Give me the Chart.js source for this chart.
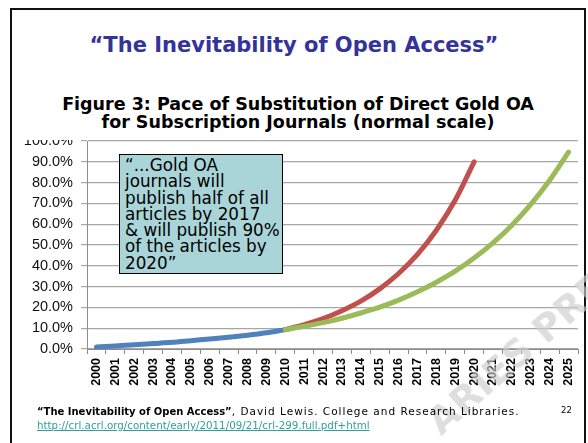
<!DOCTYPE html>
<html>
<head>
<meta charset="utf-8">
<script src="https://cdn.jsdelivr.net/npm/chart.js@4/dist/chart.umd.min.js"></script>
<style>
  html, body { margin: 0; padding: 0; background: #fff; }
  #slide {
    position: relative; width: 588px; height: 443px; overflow: hidden;
    font-family: "DejaVu Sans", Verdana, sans-serif;
  }
  #frame {
    position: absolute; left: 10px; top: 8px; width: 576px; height: 460px;
    border: 2px solid #111; box-sizing: border-box;
  }
  .title {
    position: absolute; left: 0; width: 588px; top: 33px; text-align: center;
    font-weight: bold; font-size: 21px; color: #333399;
  }
  .figtitle {
    position: absolute; left: 4px; width: 588px; top: 95px; text-align: center;
    font-weight: bold; font-size: 17.5px; line-height: 18px; color: #000;
  }
  #chartBox { position: absolute; left: 14px; top: 140px; width: 568px; height: 254px; }
  .note {
    position: absolute; left: 119px; top: 154px; width: 164px; height: 120px;
    box-sizing: border-box; background: #a9d5d9; border: 1px solid #000;
    padding: 2px 0 0 5px; font-size: 16.8px; line-height: 16.3px; color: #000;
    white-space: nowrap;
  }
  .wm {
    position: absolute; left: 418px; top: 410px; transform-origin: 0 0;
    transform: rotate(-41deg); font-weight: bold; font-size: 38px;
    color: rgba(205, 205, 205, 0.65); white-space: nowrap; pointer-events: none;
  }
  .foot { position: absolute; left: 37px; top: 405px; font-size: 10.5px; color: #000; letter-spacing: 1px; }
  .foot b { font-size: 10px; letter-spacing: 0; }
  .link { position: absolute; left: 37px; top: 419px; font-size: 10.3px; color: #30a0a0; text-decoration: underline; }
  .page { position: absolute; left: 561px; top: 405px; font-size: 8.5px; color: #000; }
</style>
</head>
<body>
<div id="slide">
  <div id="frame"></div>
  <div class="title">“The Inevitability of Open Access”</div>
  <div class="figtitle">Figure 3: Pace of Substitution of Direct Gold OA<br>for Subscription Journals (normal scale)</div>
  <div id="chartBox"><canvas id="chart"></canvas></div>
  <div class="note">“...Gold OA<br>journals will<br>publish half of all<br>articles by 2017<br>&amp; will publish 90%<br>of the articles by<br>2020”</div>
  <div class="wm">ARIES PRESS</div>
  <div class="foot"><b>“The Inevitability of Open Access”</b>, David Lewis. College and Research Libraries.</div>
  <div class="link">http://crl.acrl.org/content/early/2011/09/21/crl-299.full.pdf+html</div>
  <div class="page">22</div>
</div>
<script>
const years = ["2000", "2001", "2002", "2003", "2004", "2005", "2006", "2007", "2008",
  "2009", "2010", "2011", "2012", "2013", "2014", "2015", "2016", "2017", "2018",
  "2019", "2020", "2021", "2022", "2023", "2024", "2025"];

// share of articles in gold OA journals (%)
const actual = [1.0, 1.5, 2.0, 2.6, 3.2, 4.0, 4.8, 5.6, 6.6, 7.8, 9.3];
const fastPace = [null, null, null, null, null, null, null, null, null, null,
  9.3, 11.7, 14.6, 18.4, 23.0, 28.9, 36.3, 45.5, 57.1, 71.6, 90.0];
const slowPace = [null, null, null, null, null, null, null, null, null, null,
  9.3, 10.9, 12.7, 14.8, 17.3, 20.1, 23.5, 27.5, 32.1, 37.4, 43.7, 51.0, 59.5,
  69.5, 81.1, 94.7];

const yTicks = [0, 10, 20, 30, 40, 50, 60, 70, 80, 90, 100];

const lineStyle = {
  borderWidth: 5,
  pointRadius: 0,
  fill: false,
  cubicInterpolationMode: "monotone",
  borderCapStyle: "round",
  borderJoinStyle: "round",
  spanGaps: false,
};

new Chart(document.getElementById("chart"), {
  type: "line",
  data: {
    labels: years,
    datasets: [
      { ...lineStyle, label: "Slow", data: slowPace, borderColor: "#9bbb59" },
      { ...lineStyle, label: "Fast", data: fastPace, borderColor: "#c0504d" },
      { ...lineStyle, label: "Actual", data: actual, borderColor: "#4f81bd" },
    ],
  },
  options: {
    responsive: true,
    maintainAspectRatio: false,
    animation: false,
    layout: { padding: { top: 1, right: 4, left: 0, bottom: 0 } },
    plugins: { legend: { display: false }, tooltip: { enabled: false } },
    scales: {
      x: {
        offset: true,
        grid: { offset: true, drawOnChartArea: false, tickLength: 5, color: "#8c8c8c" },
        border: { color: "#8c8c8c", width: 1 },
        ticks: {
          autoSkip: false, minRotation: 90, maxRotation: 90, padding: 4,
          color: "#000",
          font: { family: "'Liberation Sans', Arial, sans-serif", size: 12.5, weight: "bold" },
        },
        afterFit: (scale) => {
          scale.height = 45;
          scale.paddingLeft = 0;
          scale.paddingRight = 0;
        },
      },
      y: {
        min: 0,
        max: 100,
        afterBuildTicks: (scale) => {
          scale.ticks = yTicks.map((v) => ({ value: v }));
        },
        grid: { color: "#a6a6a6", lineWidth: 1.2, tickLength: 6 },
        border: { color: "#8c8c8c", width: 1 },
        ticks: {
          padding: 8,
          color: "#111",
          font: { family: "'Liberation Sans', Arial, sans-serif", size: 14.5 },
          callback: (v) => v.toFixed(1) + "%",
        },
        afterFit: (scale) => {
          scale.width = 73;
          scale.paddingTop = 0;
          scale.paddingBottom = 0;
        },
      },
    },
  },
});
</script>
</body>
</html>
